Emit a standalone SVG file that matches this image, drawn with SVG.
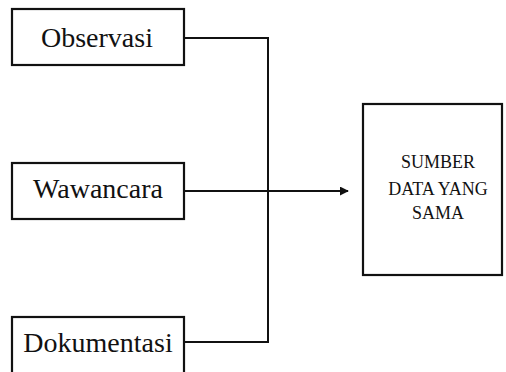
<svg xmlns="http://www.w3.org/2000/svg" width="506" height="372" viewBox="0 0 506 372">
<defs>
<style>
.box{fill:#fff;stroke:#111;stroke-width:2.2}
.lbl{font-size:28px;fill:#111;text-anchor:middle}
.sm{font-size:18px;fill:#111;text-anchor:middle}
.ln{fill:none;stroke:#111;stroke-width:2}
</style>
<marker id="arr" viewBox="0 0 10 10" refX="9" refY="5" markerWidth="4.5" markerHeight="4.5" orient="auto" markerUnits="strokeWidth">
<path d="M0,0 L10,5 L0,10 z" fill="#111"/>
</marker>
</defs>
<rect width="506" height="372" fill="#fff"/>
<g id="connectors">
<polyline class="ln" points="184,38 268,38 268,342 184,342"/>
<line class="ln" x1="184" y1="191" x2="348" y2="191" marker-end="url(#arr)"/>
</g>
<g font-family="Liberation Serif, Tinos, DejaVu Serif, serif">
<g id="observasi">
<rect class="box" x="12" y="9" width="172" height="56"/>
<text class="lbl" x="97" y="47">Observasi</text>
</g>
<g id="wawancara">
<rect class="box" x="12" y="163" width="172" height="56"/>
<text class="lbl" x="98" y="198">Wawancara</text>
</g>
<g id="dokumentasi">
<rect class="box" x="12" y="317" width="172" height="60"/>
<text class="lbl" x="98" y="352">Dokumentasi</text>
</g>
<g id="sumber">
<rect class="box" x="363" y="104" width="139" height="171"/>
<text class="sm" x="438" y="168">SUMBER</text>
<text class="sm" x="438" y="195">DATA YANG</text>
<text class="sm" x="438" y="219">SAMA</text>
</g>
</g>
</svg>
